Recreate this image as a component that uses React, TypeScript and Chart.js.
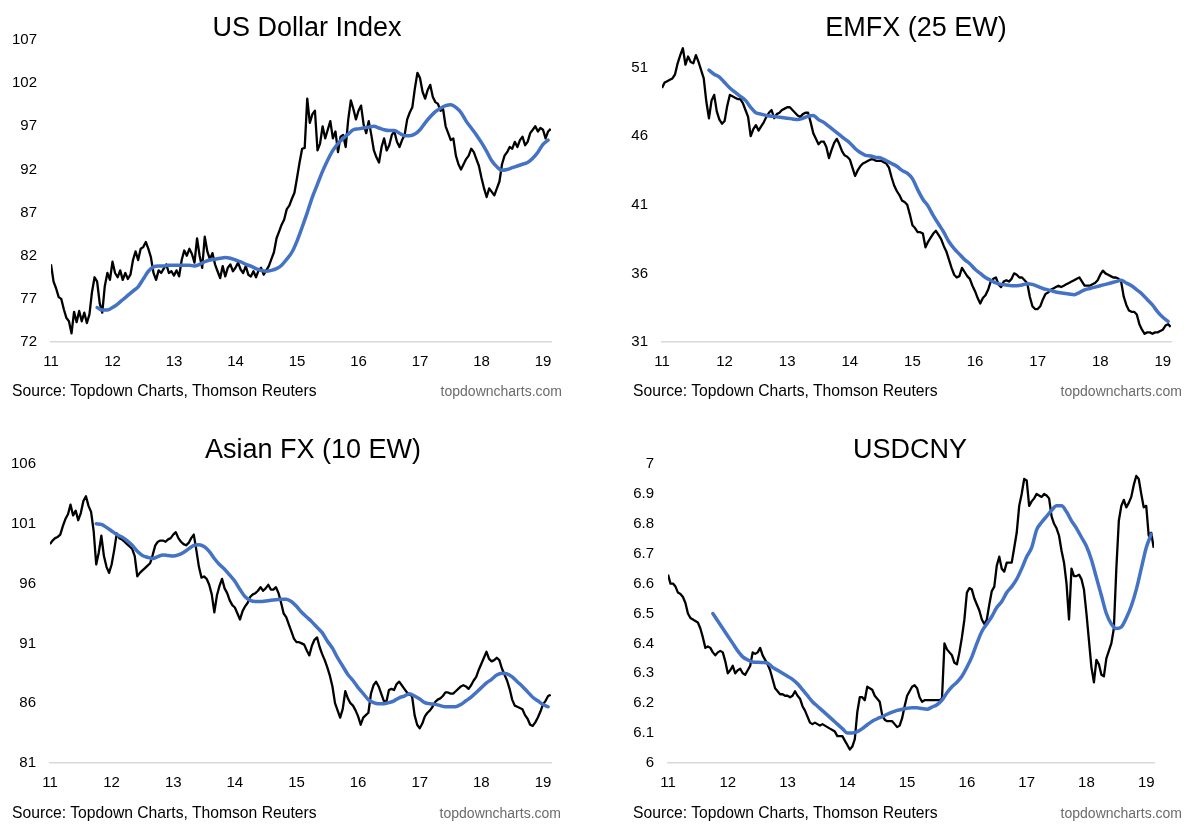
import React, { useEffect, useRef } from "react";
import { Chart, registerables } from "chart.js";

Chart.register(...registerables);

const FONT = '"Liberation Sans", Arial, Helvetica, sans-serif';

// ---------- shared axis data ----------
const X_TICKS = [2011, 2012, 2013, 2014, 2015, 2016, 2017, 2018, 2019];
const X_LABELS = ["11", "12", "13", "14", "15", "16", "17", "18", "19"];
const X_MIN = 2011;
const X_MAX = 2019.13;
const PRICE_START = 2011; // half-monthly observations
const PRICE_STEP = 1 / 24;
const MA_START = 2011.75; // monthly observations of the moving average
const MA_STEP = 1 / 12;

// ---------- US Dollar Index ----------
const USD_Y_TICKS = [72, 77, 82, 87, 92, 97, 102, 107];
const USD_Y_LABELS = ["72", "77", "82", "87", "92", "97", "102", "107"];
const USD_PRICE = [
  81.0, 79.0, 78.2, 77.2, 77.0, 75.8, 74.8, 74.4, 73.0, 75.5, 74.3, 75.6,
  74.4, 75.4, 74.2, 75.2, 77.8, 79.5, 79.0, 76.5, 75.4, 78.5, 80.0, 79.2,
  81.3, 80.0, 79.5, 80.3, 79.2, 80.0, 79.3, 79.8, 81.5, 82.5, 81.5, 82.8,
  83.0, 83.6, 82.8, 81.8, 80.0, 79.2, 80.3, 80.0, 80.5, 81.0, 80.0, 80.2,
  79.7, 80.3, 79.6, 81.5, 82.6, 82.0, 82.8, 82.2, 81.2, 84.0, 82.0, 80.6,
  84.2, 82.5, 81.6, 82.3, 81.0, 80.2, 79.4, 80.8, 79.6, 80.6, 81.0, 80.2,
  80.6, 81.2, 80.4, 80.0, 80.8, 79.8, 79.6, 80.2, 79.5, 80.3, 80.6, 79.8,
  80.3, 80.8, 81.6, 82.4, 84.0, 84.8, 85.6, 86.2, 87.4, 87.8, 88.6, 89.3,
  91.0, 92.8, 94.4, 94.5, 100.2, 97.4, 98.4, 98.8, 94.2, 95.0, 97.0, 95.6,
  96.6, 97.6, 95.6, 96.4, 94.0, 95.8, 96.0, 94.6, 97.8, 100.0, 99.0, 97.8,
  98.8, 99.4, 97.2, 96.2, 97.6, 96.0, 94.2, 93.4, 92.8, 94.6, 95.6, 94.2,
  94.8, 96.0, 96.4, 95.2, 94.6, 95.4, 96.0, 97.8, 98.6, 99.2, 101.4, 103.2,
  102.6, 101.0, 100.2, 101.2, 101.8, 100.4, 99.8, 99.6, 98.8, 99.0, 97.0, 96.2,
  95.4, 95.6, 93.6, 92.6, 92.0, 92.6, 93.2, 93.6, 94.4, 94.0, 93.2, 92.4,
  91.0, 89.8, 88.8, 89.8, 89.4, 89.0, 89.8, 90.6, 92.6, 93.6, 94.0, 94.6,
  94.4, 95.2, 94.6, 95.4, 95.8, 94.8, 95.2, 96.2, 96.6, 97.0, 96.4, 96.8,
  96.6, 95.6, 96.4, 96.7,
];
const USD_MA = [
  76.0, 75.7, 75.7, 76.0, 76.4, 76.9, 77.4, 77.9, 78.4, 79.3, 80.2, 80.7,
  80.8, 80.8, 80.9, 80.9, 80.9, 80.9, 80.9, 80.8, 81.0, 81.3, 81.5, 81.6,
  81.7, 81.8, 81.7, 81.5, 81.3, 81.0, 80.8, 80.5, 80.3, 80.2, 80.3, 80.5,
  80.9, 81.6, 82.4, 83.7, 85.3, 87.0, 88.8, 90.3, 91.8, 93.1, 94.2, 95.0,
  95.6, 96.1, 96.6, 96.7, 96.8, 96.9, 97.0, 96.8, 96.6, 96.5, 96.5, 96.2,
  95.9, 95.9, 96.1, 96.6, 97.4, 98.1, 98.7, 99.1, 99.4, 99.5, 99.2, 98.6,
  97.6, 96.8, 96.0, 95.1, 94.1, 93.0, 92.3, 91.9, 92.0, 92.2, 92.4, 92.6,
  92.8, 93.3, 94.0, 94.9, 95.4,
];

// ---------- EMFX (25 EW) ----------
const EM_Y_TICKS = [31, 36, 41, 46, 51];
const EM_Y_LABELS = ["31", "36", "41", "46", "51"];
const EM_PRICE = [
  49.5, 49.9, 50.0, 50.1, 50.2, 50.5, 51.3, 51.9, 52.4, 51.2, 51.8, 51.4,
  51.3, 51.9, 51.4, 50.8, 50.2, 48.5, 47.3, 48.6, 49.0, 47.8, 47.2, 46.9,
  47.1, 48.2, 49.0, 48.9, 48.8, 48.7, 48.7, 48.4, 47.9, 47.4, 46.0, 46.5,
  46.8, 46.4, 46.7, 47.0, 47.4, 47.7, 47.9, 47.3, 47.6, 47.7, 47.9, 48.0,
  48.1, 48.1, 47.9, 47.7, 47.5, 47.4, 47.6, 47.7, 47.7, 47.0, 46.2, 45.8,
  45.4, 45.6, 45.6, 45.2, 44.4, 45.0, 45.5, 45.8, 45.4, 44.9, 44.6, 44.5,
  44.3, 43.7, 43.1, 43.5, 43.8, 44.0, 44.1, 44.2, 44.3, 44.3, 44.2, 44.2,
  44.2, 44.1, 44.0, 43.7, 43.0, 42.4, 42.0, 41.7, 41.3, 41.2, 41.0, 40.3,
  39.5, 39.3, 39.0, 39.0, 38.9, 37.9, 38.3, 38.6, 38.9, 39.1, 38.8, 38.5,
  38.0, 37.6, 37.0, 36.4, 35.9, 35.7, 35.8, 36.4, 36.1, 35.8, 35.6, 35.1,
  34.7, 34.2, 33.8, 34.2, 34.4, 34.8, 35.4, 35.6, 35.7, 35.2, 35.0, 35.4,
  35.5, 35.4, 35.6, 36.0, 35.9, 35.7, 35.7, 35.5, 35.3, 34.3, 33.6, 33.4,
  33.4, 33.6, 34.1, 34.5, 34.6, 34.8, 34.9, 35.0, 35.1, 35.0, 35.1, 35.2,
  35.3, 35.4, 35.5, 35.6, 35.7, 35.4, 35.1, 35.1, 35.1, 35.2, 35.3, 35.5,
  35.9, 36.2, 36.0, 35.9, 35.8, 35.7, 35.7, 35.6, 35.4, 34.3, 33.7, 33.3,
  33.2, 33.2, 33.0, 32.3, 31.9, 31.6, 31.7, 31.7, 31.6, 31.7, 31.7, 31.8,
  31.9, 32.2, 32.3, 32.1,
];
const EM_MA = [
  50.8, 50.5, 50.3, 49.9, 49.5, 49.2, 48.9, 48.6, 48.1, 47.7, 47.6, 47.5,
  47.45, 47.4, 47.35, 47.3, 47.25, 47.2, 47.3, 47.45, 47.5, 47.2, 47.0, 46.7,
  46.4, 46.1, 45.8, 45.5, 45.1, 44.8, 44.6, 44.55, 44.45, 44.4, 44.2, 44.0,
  43.8, 43.5, 43.3, 42.9, 42.1, 41.4, 40.9, 40.2, 39.6, 39.0, 38.3, 37.8,
  37.4, 37.0, 36.7, 36.3, 36.0, 35.7, 35.5, 35.3, 35.2, 35.15, 35.1, 35.1,
  35.15, 35.25, 35.2, 35.05, 34.9, 34.8, 34.7, 34.6, 34.55, 34.5, 34.45, 34.6,
  34.8, 34.9, 35.0, 35.1, 35.2, 35.3, 35.4, 35.5, 35.3, 35.1, 34.8, 34.5,
  34.1, 33.7, 33.2, 32.8, 32.5,
];

// ---------- Asian FX (10 EW) ----------
const AS_Y_TICKS = [81, 86, 91, 96, 101, 106];
const AS_Y_LABELS = ["81", "86", "91", "96", "101", "106"];
const AS_PRICE = [
  99.3, 99.6, 99.8, 99.9, 100.1, 100.8, 101.4, 101.8, 102.6, 101.7, 102.1, 101.3,
  101.9, 102.9, 103.3, 102.5, 102.0, 100.4, 97.6, 98.6, 100.0, 98.3, 97.4, 96.9,
  97.6, 98.8, 100.2, 99.8, 99.7, 99.5, 99.3, 99.1, 98.9, 98.3, 96.6, 96.9,
  97.1, 97.3, 97.5, 97.7, 98.4, 99.2, 99.5, 99.6, 99.6, 99.5, 99.7, 99.8,
  100.1, 100.3, 99.8, 99.5, 99.3, 99.2, 99.4, 99.8, 100.1, 98.8, 97.4, 96.5,
  96.6, 96.4, 95.9, 95.1, 93.6, 95.0, 95.8, 96.4, 95.6, 95.2, 94.6, 94.2,
  94.0, 93.5, 93.0, 93.7, 94.1, 94.4, 94.9, 95.1, 95.2, 95.4, 95.7, 95.4,
  95.6, 95.9, 95.5, 95.5, 95.7, 95.2, 94.4, 93.5, 93.2, 92.6, 92.0, 91.4,
  91.1, 91.1, 91.0, 90.9, 90.4, 90.0, 90.8, 91.3, 91.5, 90.7, 90.1, 89.6,
  89.0, 88.3, 87.4, 86.0, 85.4, 84.8, 85.5, 87.0, 86.4, 86.0, 85.8, 85.4,
  84.9, 84.2, 84.8, 85.0, 85.2, 86.8, 87.5, 87.8, 87.4, 86.8, 86.2, 86.1,
  87.1, 87.2, 87.1, 87.6, 87.8, 87.5, 87.2, 86.9, 86.7, 86.6, 85.0, 84.2,
  83.9, 84.3, 84.9, 85.2, 85.4, 85.7, 86.1, 86.3, 86.4, 86.6, 86.9, 86.9,
  86.8, 86.8, 87.0, 87.2, 87.4, 87.5, 87.4, 87.2, 87.5, 87.9, 88.2, 88.8,
  89.3, 89.8, 90.3, 89.7, 89.5, 89.6, 89.8, 89.6, 88.9, 88.4, 87.9, 87.2,
  86.3, 85.8, 85.7, 85.6, 85.5, 85.0, 84.7, 84.2, 84.1, 84.4, 84.8, 85.3,
  85.9, 86.2, 86.6, 86.7,
];
const AS_MA = [
  101.0, 100.95, 100.7, 100.4, 100.1, 99.9, 99.6, 99.2, 98.7, 98.35, 98.2, 98.1,
  98.25, 98.4, 98.35, 98.3, 98.4, 98.6, 98.9, 99.2, 99.25, 99.1, 98.7, 98.1,
  97.6, 97.2, 96.7, 96.2, 95.5, 94.9, 94.6, 94.5, 94.5, 94.55, 94.6, 94.65,
  94.7, 94.7, 94.5, 94.1, 93.6, 93.2, 92.8, 92.35, 91.9, 91.2, 90.6, 89.8,
  89.1, 88.4, 87.9, 87.3, 86.8, 86.3, 86.05, 85.95, 85.95, 86.05, 86.2, 86.45,
  86.6, 86.8, 86.6, 86.35, 86.05, 85.95, 85.9, 85.8, 85.7, 85.7, 85.7, 85.9,
  86.2, 86.5, 86.9, 87.3, 87.7, 88.0, 88.35, 88.5, 88.45, 88.2, 87.8, 87.4,
  86.95, 86.5, 86.2, 85.9, 85.7,
];

// ---------- USDCNY ----------
const CN_Y_TICKS = [6, 6.1, 6.2, 6.3, 6.4, 6.5, 6.6, 6.7, 6.8, 6.9, 7];
const CN_Y_LABELS = ["6", "6.1", "6.2", "6.3", "6.4", "6.5", "6.6", "6.7", "6.8", "6.9", "7"];
const CN_PRICE = [
  6.63, 6.6, 6.6, 6.59, 6.57, 6.565, 6.555, 6.535, 6.5, 6.485, 6.48, 6.475,
  6.47, 6.45, 6.42, 6.385, 6.39, 6.385, 6.37, 6.36, 6.37, 6.375, 6.37, 6.34,
  6.3, 6.31, 6.325, 6.3, 6.31, 6.315, 6.3, 6.295, 6.31, 6.325, 6.37, 6.365,
  6.37, 6.385, 6.36, 6.345, 6.33, 6.31, 6.28, 6.25, 6.24, 6.23, 6.23, 6.225,
  6.225, 6.22, 6.225, 6.24, 6.225, 6.215, 6.19, 6.175, 6.155, 6.135, 6.13, 6.135,
  6.13, 6.125, 6.13, 6.125, 6.12, 6.115, 6.11, 6.105, 6.09, 6.09, 6.09, 6.075,
  6.06, 6.045, 6.055, 6.08, 6.17, 6.22, 6.22, 6.21, 6.255, 6.25, 6.245, 6.225,
  6.215, 6.205, 6.16, 6.145, 6.14, 6.14, 6.14, 6.13, 6.12, 6.125, 6.15, 6.19,
  6.225, 6.24, 6.255, 6.26, 6.25, 6.22, 6.205, 6.21, 6.21, 6.21, 6.21, 6.21,
  6.21, 6.21, 6.215, 6.4, 6.38, 6.37, 6.36, 6.335, 6.33, 6.37, 6.42, 6.48,
  6.57, 6.585, 6.58, 6.55, 6.53, 6.51, 6.48, 6.465, 6.48, 6.53, 6.575, 6.59,
  6.66, 6.69, 6.65, 6.64, 6.67, 6.67, 6.67, 6.72, 6.77, 6.86, 6.9, 6.95,
  6.945, 6.86, 6.875, 6.885, 6.9, 6.895, 6.89, 6.9, 6.895, 6.885, 6.825, 6.8,
  6.785, 6.76, 6.71, 6.67, 6.6, 6.48, 6.65, 6.625, 6.625, 6.63, 6.615, 6.58,
  6.5, 6.41, 6.32, 6.27, 6.345, 6.33, 6.295, 6.29, 6.35, 6.375, 6.4, 6.45,
  6.65, 6.81, 6.86, 6.88, 6.855, 6.87, 6.89, 6.93, 6.96, 6.95, 6.9, 6.855,
  6.86, 6.76, 6.77, 6.72,
];
const CN_MA = [
  6.5, 6.475, 6.45, 6.425, 6.4, 6.375, 6.355, 6.345, 6.338, 6.337, 6.336, 6.334,
  6.32, 6.31, 6.3, 6.29, 6.28, 6.265, 6.245, 6.225, 6.205, 6.19, 6.175, 6.16,
  6.145, 6.13, 6.115, 6.1, 6.1, 6.105, 6.115, 6.128, 6.14, 6.148, 6.155, 6.163,
  6.17, 6.176, 6.18, 6.183, 6.185, 6.185, 6.182, 6.18, 6.187, 6.195, 6.21, 6.235,
  6.255, 6.27, 6.29, 6.32, 6.355, 6.4, 6.44, 6.465, 6.49, 6.52, 6.54, 6.57,
  6.59, 6.615, 6.65, 6.69, 6.72, 6.78, 6.805, 6.825, 6.845, 6.86, 6.86, 6.84,
  6.81, 6.785, 6.755, 6.725, 6.68, 6.62, 6.56, 6.5, 6.465, 6.45, 6.455, 6.485,
  6.525, 6.58, 6.65, 6.72, 6.765,
];

// ---------- layout (positions/sizes only) ----------
type Area = { left: number; right: number; top: number; bottom: number };
type PanelSpec = {
  key: string;
  title: string;
  left: number;
  top: number;
  width: number;
  height: number;
  area: Area;
  titleCenter: number;
  titleTop: number;
  sourceTop: number;
  sourceLeft: number;
  siteRight: number;
  siteTop: number;
  price: number[];
  ma: number[];
  yTicks: number[];
  yLabels: string[];
  yMin: number;
  yMax: number;
};

const X_AXIS_HEIGHT = 40;

const PANELS: PanelSpec[] = [
  {
    key: "usd", title: "US Dollar Index", left: 0, top: 0, width: 600, height: 422,
    area: { left: 51, right: 551, top: 40, bottom: 342 },
    titleCenter: 307, titleTop: 14, sourceLeft: 12, sourceTop: 383, siteRight: 562, siteTop: 384,
    price: USD_PRICE, ma: USD_MA, yTicks: USD_Y_TICKS, yLabels: USD_Y_LABELS, yMin: 72, yMax: 107,
  },
  {
    key: "em", title: "EMFX (25 EW)", left: 600, top: 0, width: 600, height: 422,
    area: { left: 62, right: 571, top: 40, bottom: 342 },
    titleCenter: 316, titleTop: 14, sourceLeft: 33, sourceTop: 383, siteRight: 582, siteTop: 384,
    price: EM_PRICE, ma: EM_MA, yTicks: EM_Y_TICKS, yLabels: EM_Y_LABELS, yMin: 31, yMax: 53,
  },
  {
    key: "as", title: "Asian FX (10 EW)", left: 0, top: 422, width: 600, height: 410,
    area: { left: 50, right: 551, top: 42, bottom: 341 },
    titleCenter: 313, titleTop: 14, sourceLeft: 12, sourceTop: 383, siteRight: 561, siteTop: 384,
    price: AS_PRICE, ma: AS_MA, yTicks: AS_Y_TICKS, yLabels: AS_Y_LABELS, yMin: 81, yMax: 106,
  },
  {
    key: "cn", title: "USDCNY", left: 600, top: 422, width: 600, height: 410,
    area: { left: 68, right: 554, top: 42, bottom: 341 },
    titleCenter: 310, titleTop: 14, sourceLeft: 33, sourceTop: 383, siteRight: 582, siteTop: 384,
    price: CN_PRICE, ma: CN_MA, yTicks: CN_Y_TICKS, yLabels: CN_Y_LABELS, yMin: 6, yMax: 7,
  },
];

function toPoints(values: number[], start: number, step: number) {
  return values.map((v, i) => ({ x: start + i * step, y: v }));
}

function Panel({ spec }: { spec: PanelSpec }) {
  const ref = useRef<HTMLCanvasElement | null>(null);

  useEffect(() => {
    if (!ref.current) return;
    const a = spec.area;
    const tickFont = { family: FONT, size: 15 };
    const chart = new Chart(ref.current, {
      type: "line",
      data: {
        datasets: [
          {
            data: toPoints(spec.ma, MA_START, MA_STEP),
            borderColor: "#4472C4",
            borderWidth: 3.5,
            pointRadius: 0,
            cubicInterpolationMode: "monotone",
            borderCapStyle: "round",
            borderJoinStyle: "round",
            fill: false,
          },
          {
            data: toPoints(spec.price, PRICE_START, PRICE_STEP),
            borderColor: "#000000",
            borderWidth: 2.3,
            pointRadius: 0,
            tension: 0,
            borderJoinStyle: "round",
            fill: false,
          },
        ],
      },
      options: {
        animation: false,
        responsive: false,
        maintainAspectRatio: false,
        events: [],
        layout: {
          padding: {
            left: 0,
            top: a.top,
            right: spec.width - a.right,
            bottom: spec.height - a.bottom - X_AXIS_HEIGHT,
          },
        },
        plugins: {
          legend: { display: false },
          tooltip: { enabled: false },
          title: { display: false },
        },
        scales: {
          x: {
            type: "linear",
            min: X_MIN,
            max: X_MAX,
            grid: { display: false, drawTicks: false },
            border: { display: true, color: "#d9d9d9", width: 1.5 },
            ticks: {
              padding: 11,
              autoSkip: false,
              maxRotation: 0,
              font: tickFont,
              color: "#000000",
              callback: (_v: any, i: number) => X_LABELS[i],
            },
            afterBuildTicks: (axis: any) => {
              axis.ticks = X_TICKS.map((v) => ({ value: v }));
            },
            afterFit: (axis: any) => {
              axis.height = X_AXIS_HEIGHT;
            },
          },
          y: {
            type: "linear",
            min: spec.yMin,
            max: spec.yMax,
            grid: { display: false, drawTicks: false },
            border: { display: false },
            ticks: {
              padding: 14,
              autoSkip: false,
              font: tickFont,
              color: "#000000",
              callback: (_v: any, i: number) => spec.yLabels[i],
            },
            afterBuildTicks: (axis: any) => {
              axis.ticks = spec.yTicks.map((v) => ({ value: v }));
            },
            afterFit: (axis: any) => {
              axis.width = a.left;
            },
          },
        },
      } as any,
    });
    return () => chart.destroy();
  }, [spec]);

  return (
    <div
      style={{
        position: "absolute",
        left: spec.left,
        top: spec.top,
        width: spec.width,
        height: spec.height,
        overflow: "hidden",
      }}
    >
      <canvas
        ref={ref}
        width={spec.width}
        height={spec.height}
        style={{ position: "absolute", left: 0, top: 0, width: spec.width, height: spec.height }}
      />
      <div
        style={{
          position: "absolute",
          left: spec.titleCenter,
          top: spec.titleTop,
          transform: "translateX(-50%)",
          fontFamily: FONT,
          fontSize: 27,
          lineHeight: "27px",
          color: "#000",
          whiteSpace: "nowrap",
        }}
      >
        {spec.title}
      </div>
      <div
        style={{
          position: "absolute",
          left: spec.sourceLeft,
          top: spec.sourceTop,
          fontFamily: FONT,
          fontSize: 15.7,
          lineHeight: "15.7px",
          color: "#000",
          whiteSpace: "nowrap",
        }}
      >
        Source: Topdown Charts, Thomson Reuters
      </div>
      <div
        style={{
          position: "absolute",
          right: spec.width - spec.siteRight,
          top: spec.siteTop,
          fontFamily: FONT,
          fontSize: 14,
          lineHeight: "14px",
          color: "#6b6b6b",
          whiteSpace: "nowrap",
        }}
      >
        topdowncharts.com
      </div>
    </div>
  );
}

export default function App() {
  return (
    <div
      style={{
        position: "absolute",
        left: 0,
        top: 0,
        width: 1200,
        height: 832,
        background: "#ffffff",
        overflow: "hidden",
      }}
    >
      {PANELS.map((p) => (
        <Panel key={p.key} spec={p} />
      ))}
    </div>
  );
}
